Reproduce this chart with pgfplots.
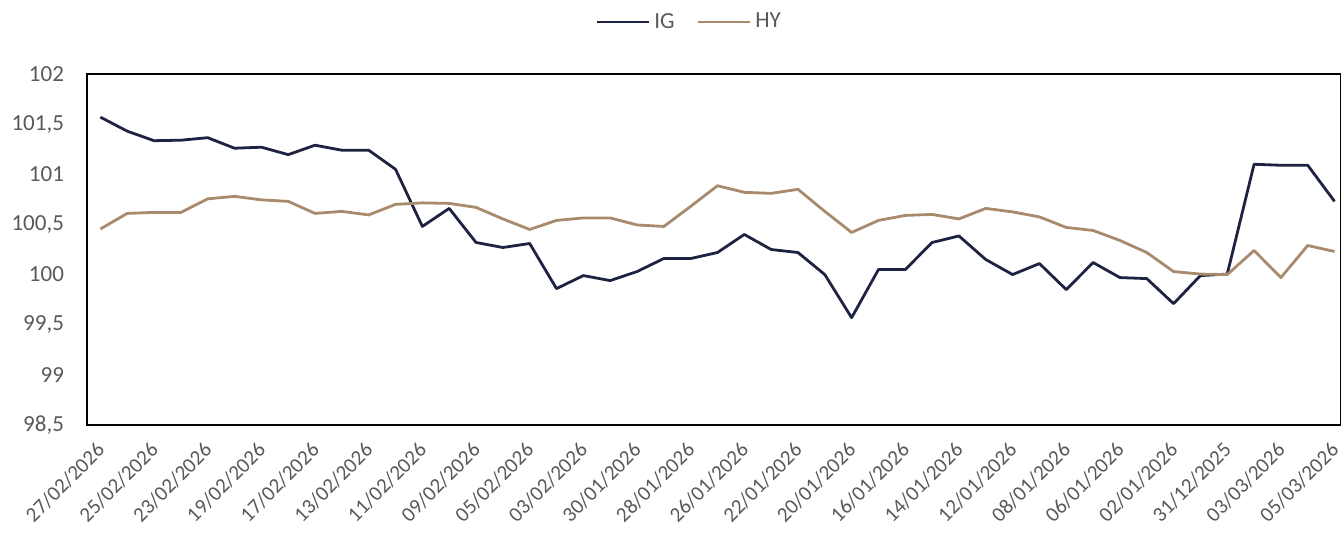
\documentclass[border=0pt]{standalone}
\usepackage{pgfplots}
\pgfplotsset{compat=1.18}
\usepackage{fontspec}
\setmainfont{Carlito}
\definecolor{igc}{HTML}{1E2341}
\definecolor{hyc}{HTML}{A88A6C}
\definecolor{txt}{HTML}{595959}
\begin{document}
\begin{tikzpicture}
\path[use as bounding box] (-43.5pt,-56pt) rectangle (627pt,212.5pt);
\begin{axis}[
  scale only axis,
  width=627pt, height=175.5pt,
  at={(0,0)}, anchor=south west,
  xmin=-0.5, xmax=46.24,
  ymin=98.5, ymax=102,
  ytick={98.5,99,...,102},
  xtick={0,2,...,46},
  xticklabels={27/02/2026,25/02/2026,23/02/2026,19/02/2026,17/02/2026,13/02/2026,11/02/2026,09/02/2026,05/02/2026,03/02/2026,30/01/2026,28/01/2026,26/01/2026,22/01/2026,20/01/2026,16/01/2026,14/01/2026,12/01/2026,08/01/2026,06/01/2026,02/01/2026,31/12/2025,03/03/2026,05/03/2026},
  major tick length=0pt,
  axis line style={black, line width=1pt},
  /pgf/number format/assume math mode=true,
  /pgf/number format/use comma,
  /pgf/number format/1000 sep={},
  yticklabel style={font=\fontsize{11.5}{13}\selectfont, text=txt, xshift=-8pt},
  xticklabel style={font=\fontsize{10.5}{12}\selectfont, text=txt, rotate=45, anchor=east, inner sep=1pt, xshift=-6.3pt, yshift=-7.8pt},
  legend style={at={(0.481,1.148)}, anchor=center, draw=none, fill=none,
    font=\fontsize{11.5}{13}\selectfont, text=txt,
    /tikz/every even column/.append style={column sep=9pt}},
  legend columns=2,
  legend image code/.code={\draw[#1] (0pt,0pt) -- (26pt,0pt);},
]
\addplot[igc, line width=1.4pt, line join=round] coordinates {
(0,101.57) (1,101.43) (2,101.335) (3,101.34) (4,101.365) (5,101.26) (6,101.27) (7,101.196) (8,101.29) (9,101.24)
(10,101.24) (11,101.05) (12,100.48) (13,100.66) (14,100.32) (15,100.27) (16,100.31) (17,99.86) (18,99.99) (19,99.94)
(20,100.03) (21,100.16) (22,100.16) (23,100.22) (24,100.40) (25,100.25) (26,100.22) (27,100.00) (28,99.57) (29,100.05)
(30,100.05) (31,100.32) (32,100.385) (33,100.15) (34,100.00) (35,100.11) (36,99.85) (37,100.12) (38,99.97) (39,99.96)
(40,99.71) (41,99.99) (42,100.005) (43,101.10) (44,101.09) (45,101.09) (46,100.73)
};
\addlegendentry{IG}
\addplot[hyc, line width=1.4pt, line join=round] coordinates {
(0,100.455) (1,100.61) (2,100.62) (3,100.62) (4,100.755) (5,100.78) (6,100.745) (7,100.73) (8,100.61) (9,100.63)
(10,100.595) (11,100.70) (12,100.715) (13,100.71) (14,100.67) (15,100.555) (16,100.45) (17,100.54) (18,100.565) (19,100.565)
(20,100.495) (21,100.48) (22,100.68) (23,100.886) (24,100.82) (25,100.81) (26,100.85) (27,100.63) (28,100.42) (29,100.54)
(30,100.59) (31,100.60) (32,100.555) (33,100.66) (34,100.625) (35,100.575) (36,100.47) (37,100.44) (38,100.34) (39,100.22)
(40,100.03) (41,100.005) (42,100.00) (43,100.24) (44,99.97) (45,100.29) (46,100.23)
};
\addlegendentry{HY}
\end{axis}
\end{tikzpicture}
\end{document}
